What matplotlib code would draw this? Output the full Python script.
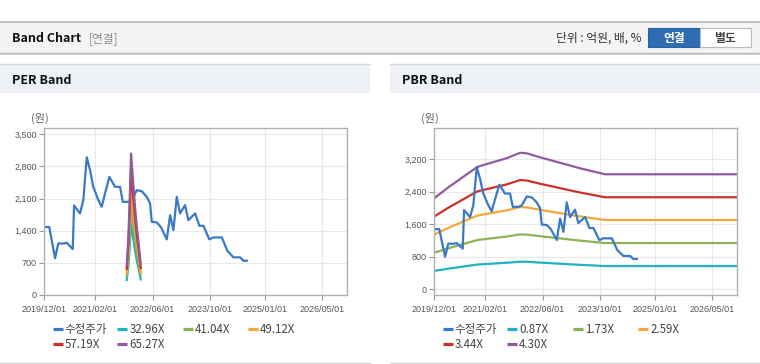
import matplotlib
matplotlib.use('Agg')
import matplotlib.pyplot as plt
import numpy as np
from matplotlib.lines import Line2D
from matplotlib.patches import Rectangle

plt.rcParams['font.family'] = ['Liberation Sans', 'Noto Sans CJK KR']
KR = ['Noto Sans CJK KR', 'Liberation Sans']

W, H = 760, 364

# ---- data ----
price_dates = ['2019-12-01', '2020-01-12', '2020-03-01', '2020-03-28', '2020-05-07', '2020-06-07',
               '2020-07-28', '2020-08-08', '2020-09-27', '2020-10-25', '2020-11-23', '2020-12-21',
               '2021-01-17', '2021-03-01', '2021-03-29', '2021-04-26', '2021-06-02', '2021-07-19',
               '2021-08-31', '2021-09-23', '2021-11-09', '2021-12-08', '2022-01-19', '2022-03-02',
               '2022-04-13', '2022-05-11', '2022-05-25', '2022-07-07', '2022-08-09', '2022-09-29',
               '2022-10-27', '2022-11-24', '2022-12-22', '2023-01-19', '2023-03-02', '2023-03-30',
               '2023-05-26', '2023-07-01', '2023-08-04', '2023-09-23', '2023-10-27', '2024-01-06',
               '2024-02-22', '2024-04-13', '2024-06-09', '2024-07-06', '2024-08-04']
price = [1480, 1480, 800, 1124, 1120, 1137, 1000, 1950, 1776, 2065, 3000, 2717,
         2355, 2065, 1920, 2210, 2572, 2355, 2355, 2028, 2028, 2065, 2283, 2260,
         2137, 1993, 1594, 1580, 1485, 1211, 1739, 1413, 2137, 1776, 1957, 1630,
         1776, 1507, 1507, 1211, 1254, 1254, 963, 820, 820, 746, 746]

per_dates = ['2021-10-26', '2021-11-09', '2021-11-21', '2021-12-02', '2021-12-19',
             '2022-01-04', '2022-01-19', '2022-02-01', '2022-02-21']
per_labels = ['32.96X', '41.04X', '49.12X', '57.19X', '65.27X']
per_3296 = [326, 626, 1088, 1556, 1252, 972, 751, 603, 339]
per_4104 = [406, 780, 1354, 1937, 1560, 1211, 936, 751, 423]
per_4912 = [486, 933, 1621, 2318, 1867, 1449, 1120, 899, 506]
per_5719 = [566, 1087, 1887, 2699, 2173, 1687, 1304, 1047, 589]
per_6527 = [646, 1240, 2154, 3081, 2480, 1925, 1488, 1194, 672]

pbr_dates = ['2019-12-01', '2020-03-28', '2020-11-23', '2020-12-21', '2021-08-03', '2021-11-23',
             '2022-01-19', '2022-05-11', '2023-04-14', '2023-11-11', '2026-11-28']
pbr_labels = ['0.87X', '1.73X', '2.59X', '3.44X', '4.30X']
pbr_087 = [453, 507, 607, 613, 653, 679, 677, 657, 602, 572, 572]
pbr_173 = [901, 1009, 1208, 1220, 1298, 1351, 1346, 1306, 1197, 1138, 1138]
pbr_259 = [1349, 1510, 1808, 1826, 1943, 2023, 2015, 1955, 1792, 1704, 1704]
pbr_344 = [1792, 2006, 2401, 2425, 2580, 2687, 2676, 2597, 2380, 2264, 2264]
pbr_430 = [2240, 2507, 3001, 3032, 3225, 3358, 3345, 3247, 2976, 2829, 2829]

xtick_dates = ['2019-12-01', '2021-02-01', '2022-06-01', '2023-10-01', '2025-01-01', '2026-05-01']
per_yticks = [0, 700, 1400, 2100, 2800, 3500]
pbr_yticks = [0, 800, 1600, 2400, 3200]

price_color = '#3a78c8'
band_colors = ['#1fb3c2', '#8db255', '#f2a73b', '#cc302b', '#915aa0']


def fx(x):
    return x / W


def fy(y):
    return 1 - y / H


fig = plt.figure(figsize=(W / 100, H / 100), dpi=100)

# ---- top header bar ----
fig.patches.append(Rectangle((0, fy(55)), 1, fy(53.3) - fy(55), transform=fig.transFigure,
                             facecolor='#dcdcdc', edgecolor='none'))
fig.patches.append(Rectangle((0, fy(53.3)), 1, fy(22.3) - fy(53.3), transform=fig.transFigure,
                             facecolor='#f4f4f4', edgecolor='none'))
fig.add_artist(Line2D([0, 1], [fy(22.3), fy(22.3)], color='#b4b4b4', lw=1.2))
fig.add_artist(Line2D([0, 1], [fy(53.3), fy(53.3)], color='#b8b8b8', lw=1))
fig.text(fx(11.5), fy(38.5), 'Band Chart', fontsize=9, fontweight='bold', family=KR,
         va='center', ha='left', color='#111111')
fig.text(fx(89), fy(38.5), '[연결]', fontsize=8.5, family=KR, va='center', ha='left', color='#8a8a8a')
fig.text(fx(642), fy(38.5), '단위 : 억원, 배, %', fontsize=8.5, family=KR, va='center', ha='right',
         color='#333333')
fig.patches.append(Rectangle((fx(648), fy(47.3)), fx(52), fy(28.3) - fy(47.3), transform=fig.transFigure,
                             facecolor='#2e6db3', edgecolor='#2a63a3', lw=0.8))
fig.patches.append(Rectangle((fx(700), fy(47.3)), fx(50.5), fy(28.3) - fy(47.3), transform=fig.transFigure,
                             facecolor='white', edgecolor='#bbbbbb', lw=0.8))
fig.text(fx(674), fy(38.3), '연결', fontsize=8.5, family=KR, fontweight='bold', va='center', ha='center',
         color='white')
fig.text(fx(725), fy(38.3), '별도', fontsize=8.5, family=KR, fontweight='bold', va='center', ha='center',
         color='#444444')

# ---- panels ----
for x0, x1, title in [(0, 370, 'PER Band'), (390, 760, 'PBR Band')]:
    fig.patches.append(Rectangle((fx(x0), fy(92.7)), fx(x1 - x0), fy(64.3) - fy(92.7),
                                 transform=fig.transFigure, facecolor='#eef2f7', edgecolor='none'))
    fig.add_artist(Line2D([fx(x0), fx(x1)], [fy(64.3), fy(64.3)], color='#d6d6d6', lw=1))
    fig.add_artist(Line2D([fx(x0), fx(x1)], [fy(362.8), fy(362.8)], color='#d6d6d6', lw=1))
    fig.text(fx(x0 + 11.5), fy(80), title, fontsize=9, fontweight='bold', family=KR,
             va='center', ha='left', color='#111111')
    fig.text(fx(x0 + 40), fy(118.5), '(원)', fontsize=8, family=KR, va='center', ha='center',
             color='#666666')

xlim = (np.datetime64('2019-12-01'), np.datetime64('2026-11-27'))


def style_axes(ax, yticks, ylim):
    ax.set_xlim(xlim)
    ax.set_ylim(ylim)
    ax.set_xticks([np.datetime64(d) for d in xtick_dates])
    ax.set_xticklabels([d.replace('-', '/') for d in xtick_dates])
    ax.set_yticks(yticks)
    ax.set_yticklabels([f'{v:,}' for v in yticks])
    ax.tick_params(axis='both', labelsize=6.5, colors='#999999', labelcolor='#555555',
                   length=3.5, width=0.8, pad=2)
    ax.tick_params(axis='x', pad=4)
    ax.grid(True, color='#e8e8e8', lw=0.8)
    ax.set_axisbelow(True)
    for s in ax.spines.values():
        s.set_color('#b0b0b0')
        s.set_linewidth(1)


def legend(x0, labels, colors):
    cols = [52.7, 117.3, 183.3, 248.3]
    rows = [329.3, 344]
    for i, (lab, c) in enumerate(zip(labels, colors)):
        r, k = divmod(i, 4)
        lx = x0 + cols[k]
        ly = rows[r]
        fig.add_artist(Line2D([fx(lx), fx(lx + 10)], [fy(ly), fy(ly)], color=c, lw=2.3,
                              solid_capstyle='butt'))
        fig.text(fx(lx + 12), fy(ly), lab, fontsize=8.3, family=KR, va='center', ha='left',
                 color='#444444')


# PER
ax1 = fig.add_axes([fx(44.3), fy(295), fx(347 - 44.3), fy(128.3) - fy(295)])
ax1.plot(np.array(price_dates, dtype='datetime64[D]'), price, color=price_color, lw=1.6)
pd_ = np.array(per_dates, dtype='datetime64[D]')
for vals, c in zip([per_3296, per_4104, per_4912, per_5719, per_6527], band_colors):
    ax1.plot(pd_, vals, color=c, lw=1.6)
style_axes(ax1, per_yticks, (0, 3630))
legend(0, ['수정주가'] + per_labels, [price_color] + band_colors)

# PBR
ax2 = fig.add_axes([fx(434.3), fy(295), fx(737 - 434.3), fy(128.3) - fy(295)])
bd = np.array(pbr_dates, dtype='datetime64[D]')
for vals, c in zip([pbr_087, pbr_173, pbr_259, pbr_344, pbr_430], band_colors):
    ax2.plot(bd, vals, color=c, lw=1.6)
ax2.plot(np.array(price_dates, dtype='datetime64[D]'), price, color=price_color, lw=1.6)
style_axes(ax2, pbr_yticks, (-140, 3960))
legend(390, ['수정주가'] + pbr_labels, [price_color] + band_colors)

fig.savefig('out.png', dpi=100)
